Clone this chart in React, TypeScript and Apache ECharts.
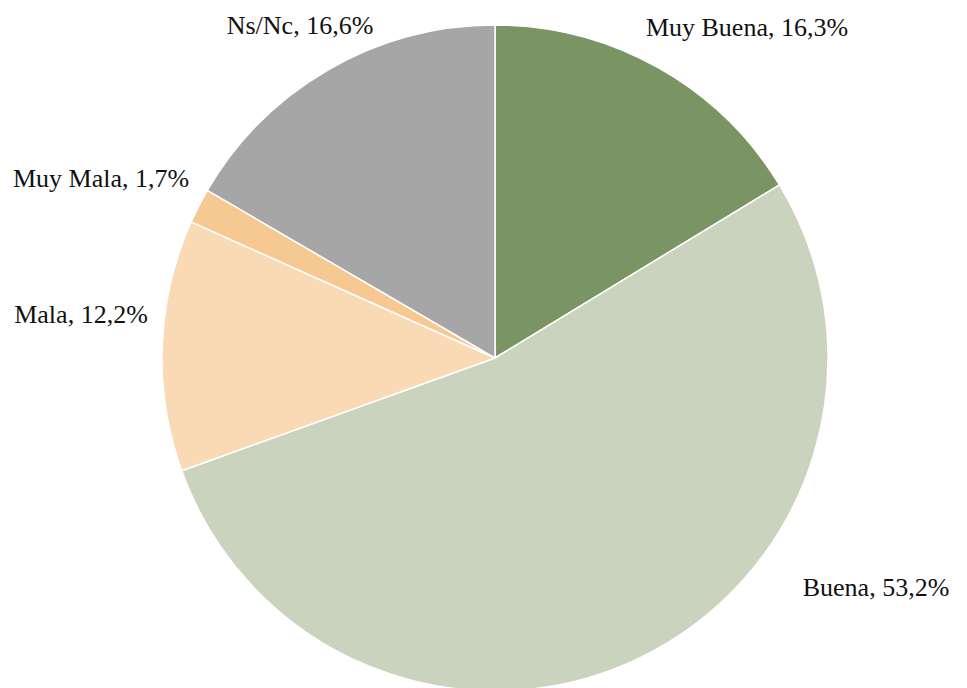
import React, { useEffect, useRef } from "react";
import * as echarts from "echarts";

const categories = ["Muy Buena", "Buena", "Mala", "Muy Mala", "Ns/Nc"];
const values = [16.3, 53.2, 12.2, 1.7, 16.6];
const colors = ["#7b9463", "#c9d3bd", "#f9dab5", "#f6c892", "#a6a6a6"];

// label anchor points (horizontal centre, vertical middle), as placed in the reference
const labelPos: [number, number][] = [
  [747, 27],
  [876, 587],
  [81, 314],
  [101, 178],
  [300, 25],
];

export default function App() {
  const ref = useRef<HTMLDivElement>(null);
  useEffect(() => {
    const chart = echarts.init(ref.current!, null, { renderer: "svg" });
    chart.setOption({
      animation: false,
      backgroundColor: "#ffffff",
      series: [
        {
          type: "pie",
          center: [495, 358],
          radius: 333,
          startAngle: 90,
          clockwise: true,
          avoidLabelOverlap: false,
          itemStyle: { borderColor: "#ffffff", borderWidth: 1.5 },
          label: {
            show: true,
            position: "outside",
            fontFamily: "Liberation Serif",
            fontSize: 26,
            color: "#111111",
            formatter: (p: any) => `${p.name}, ${values[p.dataIndex].toFixed(1).replace(".", ",")}%`,
          },
          labelLine: { show: false, length: 12, length2: 0 },
          labelLayout: (p: any) => ({
            x: labelPos[p.dataIndex][0],
            y: labelPos[p.dataIndex][1],
            align: "center",
            verticalAlign: "middle",
          }),
          data: categories.map((c, i) => ({ name: c, value: values[i], itemStyle: { color: colors[i] } })),
        },
      ],
    });
    return () => chart.dispose();
  }, []);
  return <div ref={ref} style={{ position: "fixed", left: 0, top: 0, width: 967, height: 688 }} />;
}
